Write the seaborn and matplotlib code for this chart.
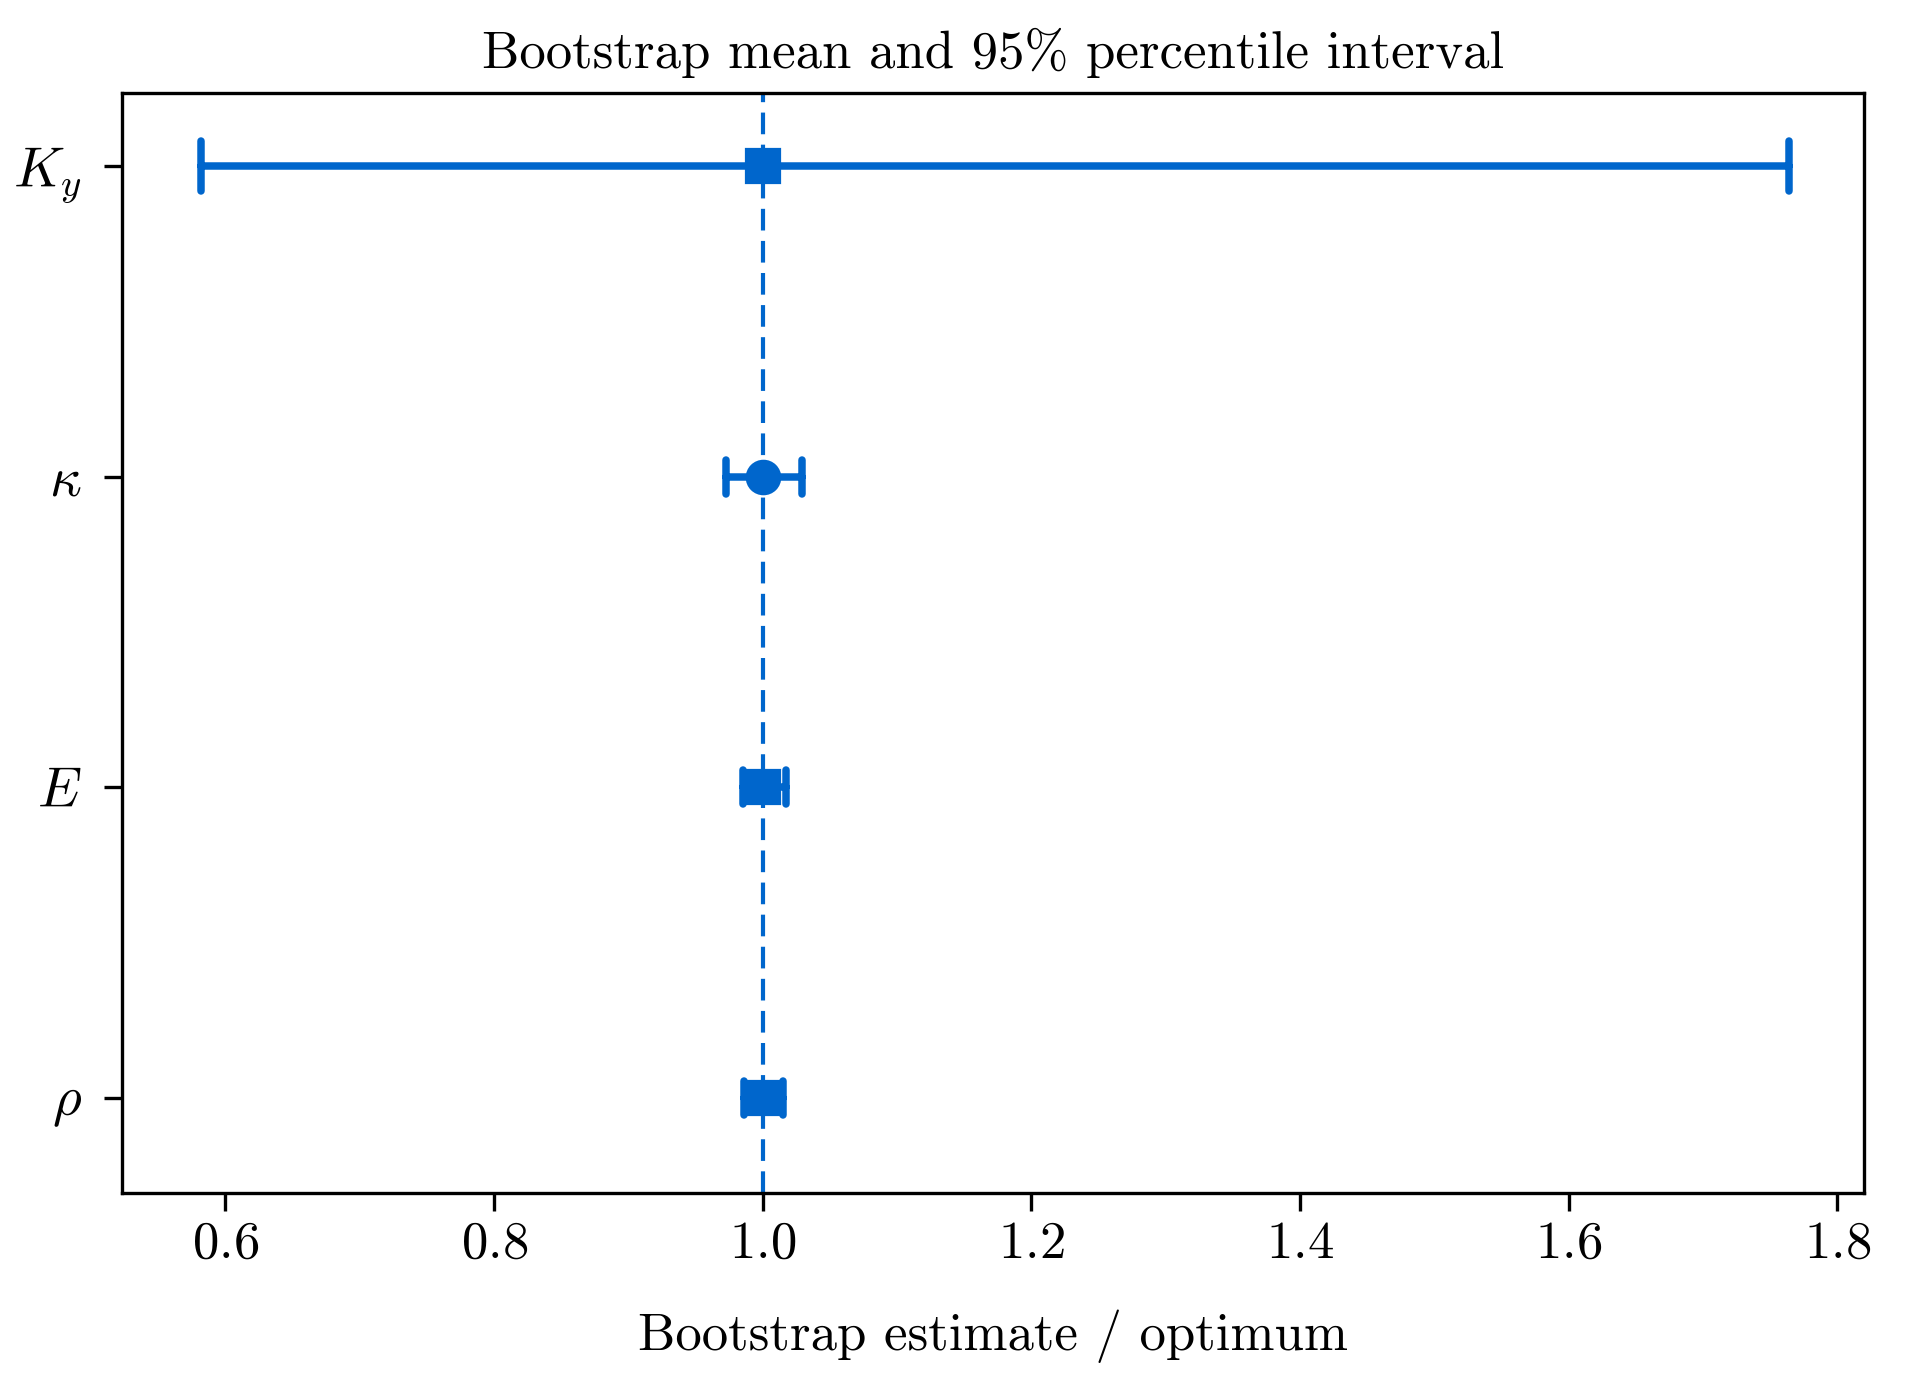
import numpy as np
import pandas as pd
import seaborn as sns
import matplotlib
matplotlib.use("Agg")
import matplotlib.pyplot as plt

# bootstrap summary (estimate / optimum)
params = ['$K_y$', r'$\kappa$', '$E$', r'$\rho$']
means = [1.000, 1.000, 1.000, 1.000]
lows = [0.582, 0.973, 0.985, 0.986]
highs = [1.764, 1.029, 1.017, 1.015]
ref_value = 1.0

# per-row marker and cap style
markers = ['s', 'o', 's', 's']
capsizes = [0.16, 0.11, 0.11, 0.11]
blue = '#0066CC'

sns.set_theme(style="ticks")
plt.rcParams['font.family'] = ['cmr10', 'DejaVu Serif']
plt.rcParams['mathtext.fontset'] = 'cm'
plt.rcParams['axes.formatter.use_mathtext'] = True
plt.rcParams['axes.unicode_minus'] = False
plt.rcParams['text.color'] = 'black'
plt.rcParams['axes.labelcolor'] = 'black'

# long form: low / mean / high per parameter -> median + full-range interval
df = pd.DataFrame({
    'param': np.repeat(params, 3),
    'value': np.column_stack([lows, means, highs]).ravel(),
})

fig, ax = plt.subplots(figsize=(9.565, 6.95), dpi=200)
fig.subplots_adjust(left=0.0638, right=0.9744, top=0.933, bottom=0.1417)

ax.axvline(ref_value, color=blue, lw=1.5, ls=(0, (5.2, 2.5)), zorder=1)

for p, m, c in zip(params, markers, capsizes):
    sns.pointplot(data=df[df['param'] == p], x='value', y='param', order=params,
                  estimator='median', errorbar=('pi', 100), orient='y',
                  color=blue, markers=m, linestyles='none', capsize=c,
                  linewidth=2.7, markersize=12, markeredgewidth=0.8,
                  ax=ax, zorder=3)

ax.set_ylim(3.307, -0.235)
ax.set_xlim(0.523, 1.82)

ax.set_title('Bootstrap mean and 95% percentile interval', fontsize=19, pad=9)
ax.set_xlabel('Bootstrap estimate / optimum', fontsize=19, labelpad=15)
ax.set_ylabel('')
ax.tick_params(axis='both', labelsize=19, length=6.5, width=1.2, color='black',
               labelcolor='black')
ax.tick_params(axis='y', labelsize=20, pad=8)
for s in ax.spines.values():
    s.set_color('black')
    s.set_linewidth(1.2)

plt.savefig('out.png', dpi=200)
plt.close()
